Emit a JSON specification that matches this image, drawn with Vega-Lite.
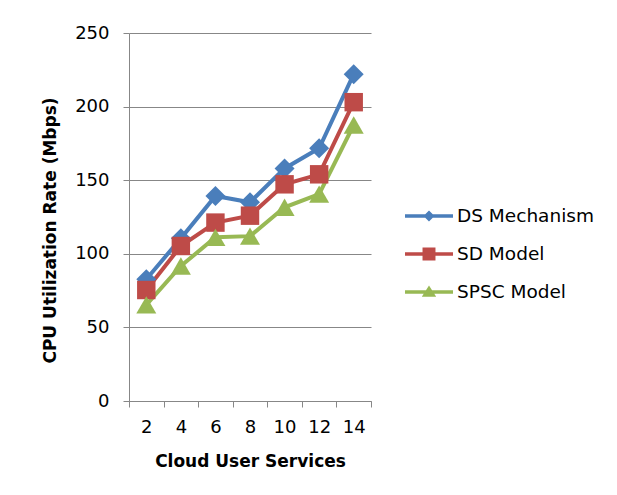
{
  "$schema": "https://vega.github.io/schema/vega-lite/v6.json",
  "width": 242,
  "height": 368,
  "autosize": {"type": "none"},
  "padding": {"left": 129, "top": 33, "right": 246, "bottom": 94},
  "background": "white",
  "config": {
    "font": "DejaVu Sans",
    "view": {"stroke": null},
    "axis": {
      "domainColor": "#878787",
      "tickColor": "#878787",
      "gridColor": "#878787",
      "labelColor": "black",
      "titleColor": "black",
      "labelFontSize": 18,
      "titleFontSize": 17,
      "titleFontWeight": "bold",
      "tickSize": 6
    },
    "legend": {
      "padding": 0,
      "orient": "none",
      "legendX": 276,
      "legendY": 159,
      "labelFontSize": 18.5,
      "labelColor": "black",
      "symbolSize": 2304,
      "symbolOpacity": 1,
      "symbolStrokeWidth": 0,
      "rowPadding": 4,
      "labelOffset": 4
    }
  },
  "data": {
    "values": [
      {"services": 2, "series": "DS Mechanism", "rate": 82.7},
      {"services": 4, "series": "DS Mechanism", "rate": 110.5},
      {"services": 6, "series": "DS Mechanism", "rate": 139.3},
      {"services": 8, "series": "DS Mechanism", "rate": 135},
      {"services": 10, "series": "DS Mechanism", "rate": 158},
      {"services": 12, "series": "DS Mechanism", "rate": 171.7},
      {"services": 14, "series": "DS Mechanism", "rate": 222},
      {"services": 2, "series": "SD Model", "rate": 75.4},
      {"services": 4, "series": "SD Model", "rate": 105.3},
      {"services": 6, "series": "SD Model", "rate": 121.2},
      {"services": 8, "series": "SD Model", "rate": 125.9},
      {"services": 10, "series": "SD Model", "rate": 147.2},
      {"services": 12, "series": "SD Model", "rate": 154},
      {"services": 14, "series": "SD Model", "rate": 203},
      {"services": 2, "series": "SPSC Model", "rate": 65.3},
      {"services": 4, "series": "SPSC Model", "rate": 91.7},
      {"services": 6, "series": "SPSC Model", "rate": 111.2},
      {"services": 8, "series": "SPSC Model", "rate": 112},
      {"services": 10, "series": "SPSC Model", "rate": 131.6},
      {"services": 12, "series": "SPSC Model", "rate": 140.6},
      {"services": 14, "series": "SPSC Model", "rate": 187.5}
    ]
  },
  "encoding": {
    "x": {
      "field": "services",
      "type": "ordinal",
      "scale": {"type": "band", "paddingInner": 0, "paddingOuter": 0},
      "axis": {
        "title": "Cloud User Services",
        "labelAngle": 0,
        "tickBand": "extent",
        "labelPadding": 11,
        "titlePadding": 17,
        "grid": false
      }
    },
    "y": {
      "field": "rate",
      "type": "quantitative",
      "scale": {"domain": [0, 250]},
      "axis": {
        "title": "CPU Utilization Rate (Mbps)",
        "values": [0, 50, 100, 150, 200, 250],
        "grid": true,
        "labelPadding": 14,
        "titlePadding": 15,
        "titleY": 197
      }
    },
    "color": {
      "field": "series",
      "type": "nominal",
      "title": null,
      "scale": {
        "domain": ["DS Mechanism", "SD Model", "SPSC Model"],
        "range": ["#4A7EBB", "#BE4B48", "#98B954"]
      }
    }
  },
  "layer": [
    {"mark": {"type": "line", "strokeWidth": 4}},
    {
      "transform": [{"filter": "datum.series === 'DS Mechanism'"}],
      "mark": {"type": "point", "filled": true, "opacity": 1, "size": 400, "shape": "diamond"}
    },
    {
      "transform": [{"filter": "datum.series === 'SD Model'"}],
      "mark": {"type": "point", "filled": true, "opacity": 1, "size": 340, "shape": "square"}
    },
    {
      "transform": [{"filter": "datum.series === 'SPSC Model'"}],
      "mark": {"type": "point", "filled": true, "opacity": 1, "size": 400, "shape": "triangle-up"}
    },
    {
      "mark": {"type": "point", "filled": true, "opacity": 0, "size": 2304},
      "encoding": {
        "shape": {
          "field": "series",
          "type": "nominal",
          "title": null,
          "scale": {
            "domain": ["DS Mechanism", "SD Model", "SPSC Model"],
            "range": [
              "M-1,-0.075L1,-0.075L1,0.075L-1,0.075Z M0,-0.23L0.23,0L0,0.23L-0.23,0Z",
              "M-1,-0.075L1,-0.075L1,0.075L-1,0.075Z M-0.27,-0.27L0.27,-0.27L0.27,0.27L-0.27,0.27Z",
              "M-1,-0.075L1,-0.075L1,0.075L-1,0.075Z M0,-0.27L0.3,0.2L-0.3,0.2Z"
            ]
          }
        }
      }
    }
  ]
}
